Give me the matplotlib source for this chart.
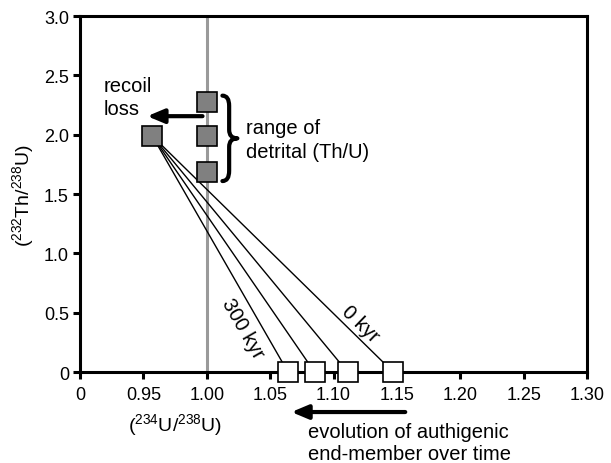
import matplotlib
matplotlib.use('Agg')
import matplotlib.pyplot as plt
from matplotlib.path import Path
from matplotlib.patches import PathPatch

plt.rcParams['font.family'] = ['Liberation Sans', 'DejaVu Sans']
plt.rcParams['mathtext.fontset'] = 'custom'
plt.rcParams['mathtext.rm'] = 'Liberation Sans'
plt.rcParams['mathtext.it'] = 'Liberation Sans'

# detrital end-members (234U/238U = 1, range of Th/U)
detrital_x = [1.00, 1.00, 1.00]
detrital_y = [2.28, 1.99, 1.69]

# detrital after recoil loss
recoil_x = [0.957]
recoil_y = [1.99]

# authigenic end-member, 300 kyr ... 0 kyr
authigenic_x = [1.064, 1.085, 1.111, 1.147]
authigenic_y = [0, 0, 0, 0]

x_ticks = [0.90, 0.95, 1.00, 1.05, 1.10, 1.15, 1.20, 1.25, 1.30]
x_labels = ['0', '0.95', '1.00', '1.05', '1.10', '1.15', '1.20', '1.25', '1.30']
y_ticks = [0, 0.5, 1.0, 1.5, 2.0, 2.5, 3.0]
y_labels = ['0', '0.5', '1.0', '1.5', '2.0', '2.5', '3.0']

FS = 14.5
ARROW = dict(arrowstyle='-|>,head_length=1.0,head_width=0.42', color='black',
             lw=3, shrinkA=0, shrinkB=0, mutation_scale=10)


def brace(ax, x0, x1, y0, y1):
    # right-facing curly brace between y0 and y1
    xm = x0 + 0.45 * (x1 - x0)
    ym = (y0 + y1) / 2
    h = y1 - y0
    verts = [(x0, y1), (xm, y1), (xm, y1 - 0.12 * h),
             (xm, ym + 0.1 * h),
             (xm, ym), (x1, ym),
             (xm, ym), (xm, ym - 0.1 * h),
             (xm, y0 + 0.12 * h),
             (xm, y0), (x0, y0)]
    codes = [Path.MOVETO, Path.CURVE3, Path.CURVE3,
             Path.LINETO,
             Path.CURVE3, Path.CURVE3,
             Path.CURVE3, Path.CURVE3,
             Path.LINETO,
             Path.CURVE3, Path.CURVE3]
    ax.add_patch(PathPatch(Path(verts, codes), fill=False, lw=3, color='black',
                           capstyle='round', joinstyle='round'))


fig = plt.figure(figsize=(6.11, 4.64), dpi=100)
ax = fig.add_axes([0.131, 0.196, 0.830, 0.767])

ax.axvline(1.00, color='#9a9a9a', lw=2.2, zorder=1)

for ax_x, ax_y in zip(authigenic_x, authigenic_y):
    ax.plot([recoil_x[0], ax_x], [recoil_y[0], ax_y], color='black', lw=1, zorder=2)

ax.plot(detrital_x, detrital_y, 's', ms=14, mfc='#808080', mec='black', mew=1.2, zorder=4)
ax.plot(recoil_x, recoil_y, 's', ms=14, mfc='#808080', mec='black', mew=1.2, zorder=4)
ax.plot(authigenic_x, authigenic_y, 's', ms=14, mfc='white', mec='black', mew=1.2,
        zorder=4, clip_on=False)

ax.set_xlim(0.90, 1.30)
ax.set_ylim(0, 3.0)
ax.set_xticks(x_ticks)
ax.set_xticklabels(x_labels)
ax.set_yticks(y_ticks)
ax.set_yticklabels(y_labels)
ax.tick_params(axis='both', direction='out', length=5, width=2.2, labelsize=13)
ax.tick_params(axis='x', pad=5)
ax.tick_params(axis='y', pad=3)
for s in ax.spines.values():
    s.set_linewidth(2.2)
    s.set_zorder(3)

ax.set_ylabel('($^{232}$Th/$^{238}$U)', fontsize=14, labelpad=6)
ax.text(0.1875, -0.145, '($^{234}$U/$^{238}$U)', transform=ax.transAxes,
        ha='center', va='center', fontsize=14)

# recoil loss arrow
ax.annotate('', xy=(0.953, 2.157), xytext=(0.9966, 2.157), arrowprops=ARROW)
ax.text(0.9185, 2.32, 'recoil\nloss', fontsize=FS, ha='left', va='center',
        linespacing=1.3)

brace(ax, 1.0123, 1.0241, 1.61, 2.33)
ax.text(1.031, 1.96, 'range of\ndetrital (Th/U)', fontsize=FS, ha='left',
        va='center', linespacing=1.3)

ax.text(1.028, 0.37, '300 kyr', fontsize=FS, rotation=-60, ha='center', va='center')
ax.text(1.121, 0.41, '0 kyr', fontsize=FS, rotation=-44, ha='center', va='center')

# evolution arrow below the axis
ax.annotate('', xy=(1.0667, -0.337), xytext=(1.1565, -0.337), arrowprops=ARROW,
            annotation_clip=False)
ax.text(1.080, -0.595, 'evolution of authigenic\nend-member over time', fontsize=FS,
        ha='left', va='center', linespacing=1.2, clip_on=False)

fig.savefig('out.png', dpi=100)
